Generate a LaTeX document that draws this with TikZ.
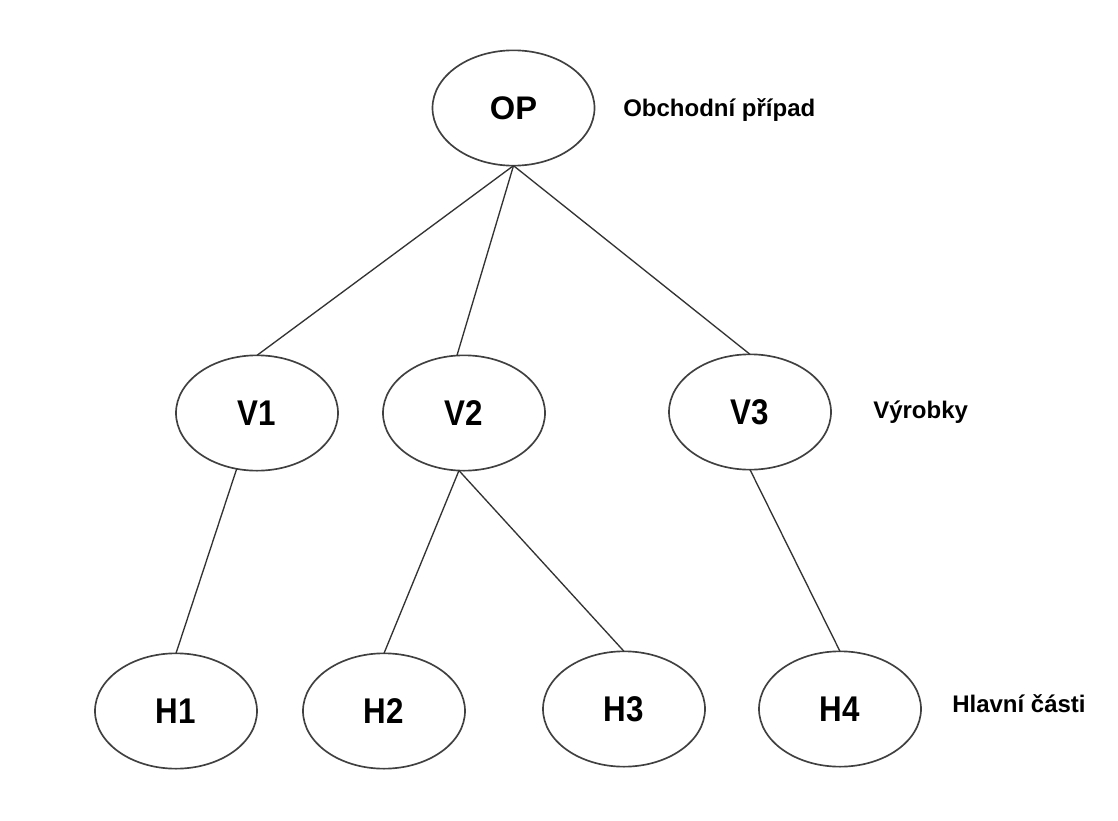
\documentclass[tikz,border=0pt]{standalone}
\usepackage{fontspec}
\setmainfont{Liberation Sans}
\usetikzlibrary{shapes.geometric}
\newcommand\talltext[1]{\scalebox{1}[1.14]{#1}}
\begin{document}
\begin{tikzpicture}[x=0.75pt,y=-0.75pt,
  oval/.style={ellipse,draw=black!75,line width=1.25pt,minimum width=121.5pt,minimum height=86.5pt,inner sep=0pt,outer sep=0pt,font=\fontsize{23.5}{28}\selectfont\bfseries},
  lvl/.style={anchor=west,inner sep=0pt,font=\fontsize{18}{22}\selectfont\bfseries},
  link/.style={draw=black!80,line width=1pt}]
\useasboundingbox[fill=white] (0,0) rectangle (1118,821);
\node[oval,font=\fontsize{24.5}{28}\selectfont\bfseries] (OP) at (513.5,108) {OP};
\node[oval] (V1) at (257,413) {\talltext{V1}};
\node[oval] (V2) at (464,413) {\talltext{V2}};
\node[oval] (V3) at (750,412) {\talltext{V3}};
\node[oval] (H1) at (176,711) {\talltext{H1}};
\node[oval] (H2) at (384,711) {\talltext{H2}};
\node[oval] (H3) at (624,709) {\talltext{H3}};
\node[oval] (H4) at (840,709) {\talltext{H4}};
\node[lvl] (L1) at (623,110) {Obchodní případ};
\node[lvl] (L2) at (873,412) {Výrobky};
\node[lvl] (L3) at (952,704) {Hlavní části};
\draw[link] (OP.south) -- (V1.north);
\draw[link] (OP.south) -- (V2.97);
\draw[link] (OP.south) -- (V3.north);
\draw[link] (V1.250) -- (H1.north);
\draw[link] (V2.265) -- (H2.north);
\draw[link] (V2.265) -- (H3.north);
\draw[link] (V3.south) -- (H4.north);
\end{tikzpicture}
\end{document}
